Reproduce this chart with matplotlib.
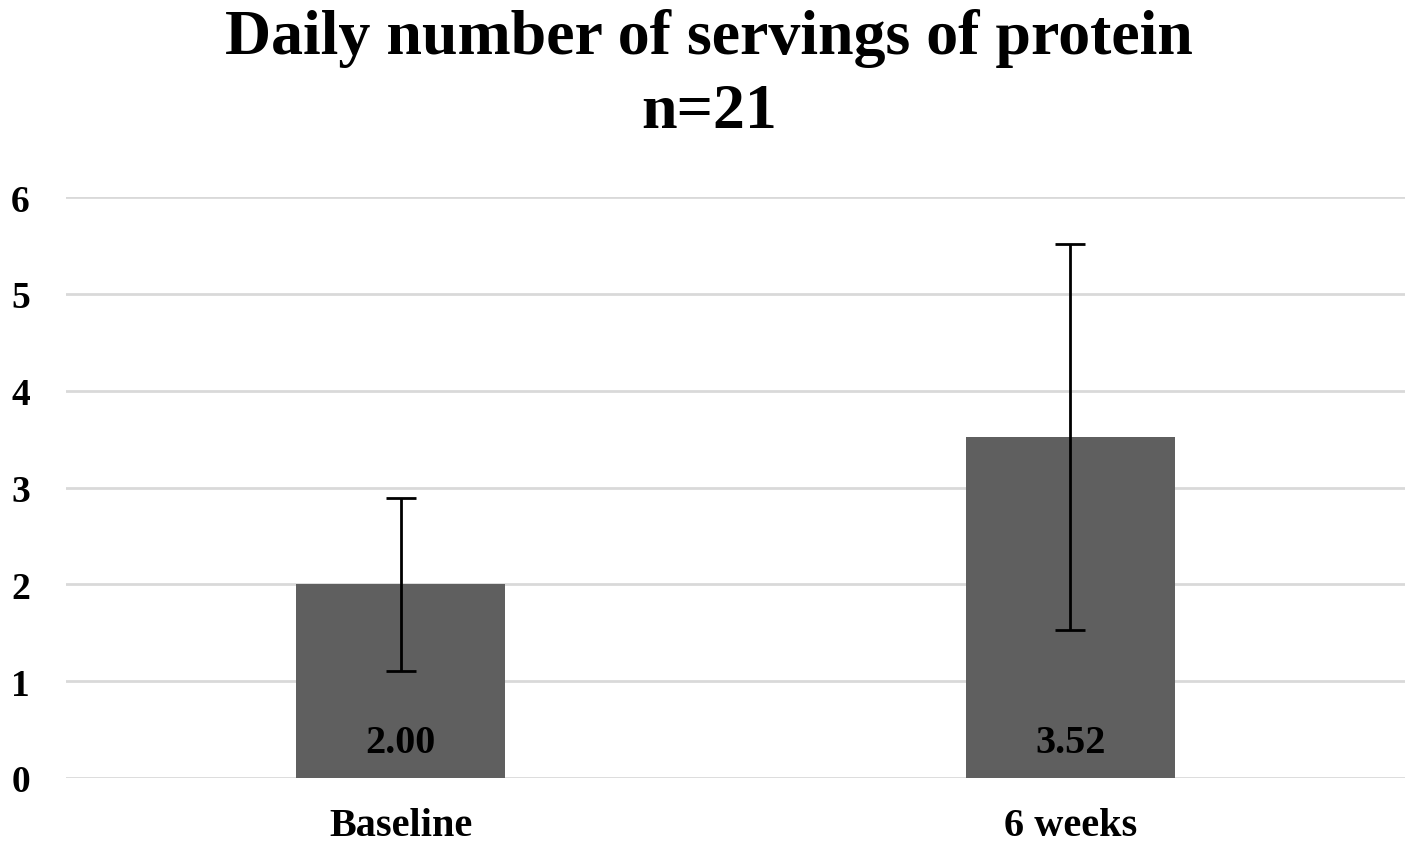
import matplotlib
matplotlib.use("Agg")
import matplotlib.pyplot as plt

categories = ["Baseline", "6 weeks"]
means = [2.00, 3.52]
sds = [0.89, 1.99]
value_labels = ["2.00", "3.52"]
yticks = [0, 1, 2, 3, 4, 5, 6]
title_lines = ["Daily number of servings of protein", "n=21"]

plt.rcParams['font.family'] = ['Liberation Serif', 'DejaVu Serif']
plt.rcParams['font.weight'] = 'bold'

fig = plt.figure(figsize=(14.18, 8.54), dpi=100)
ax = fig.add_axes([66/1418, 1-779/854, (1405-66)/1418, (779-198)/854])

x = list(range(len(categories)))
ax.bar(x, means, width=0.312, color="#5f5f5f", zorder=2)
ax.errorbar(x, means, yerr=sds, fmt='none', ecolor='black', elinewidth=2.0,
            capsize=10.5, capthick=2.0, zorder=3)

for xi, lab in zip(x, value_labels):
    ax.annotate(lab, (xi, 0), xytext=(0, 18.7), textcoords='offset points',
                ha='center', va='baseline', fontsize=29, fontweight='bold', color='black')

ax.set_xlim(-0.5, 1.5)
ax.set_ylim(0, 6)
ax.set_yticks(yticks)
ax.set_yticklabels([str(t) for t in yticks], fontsize=27, fontweight='bold')
ax.set_xticks(x)
ax.set_xticklabels(categories, fontsize=29, fontweight='bold')
ax.tick_params(axis='y', length=0, pad=26)
ax.tick_params(axis='x', length=0, pad=21)
ax.yaxis.grid(True, color='#d9d9d9', linewidth=2.0, zorder=0)
ax.set_axisbelow(True)
for s in ax.spines.values():
    s.set_visible(False)

fig.text(0.5, 1-54/854, title_lines[0], ha='center', va='baseline',
         fontsize=46, fontweight='bold')
fig.text(0.5, 1-128/854, title_lines[1], ha='center', va='baseline',
         fontsize=46, fontweight='bold')

fig.savefig("out.png", dpi=100, facecolor='white')
